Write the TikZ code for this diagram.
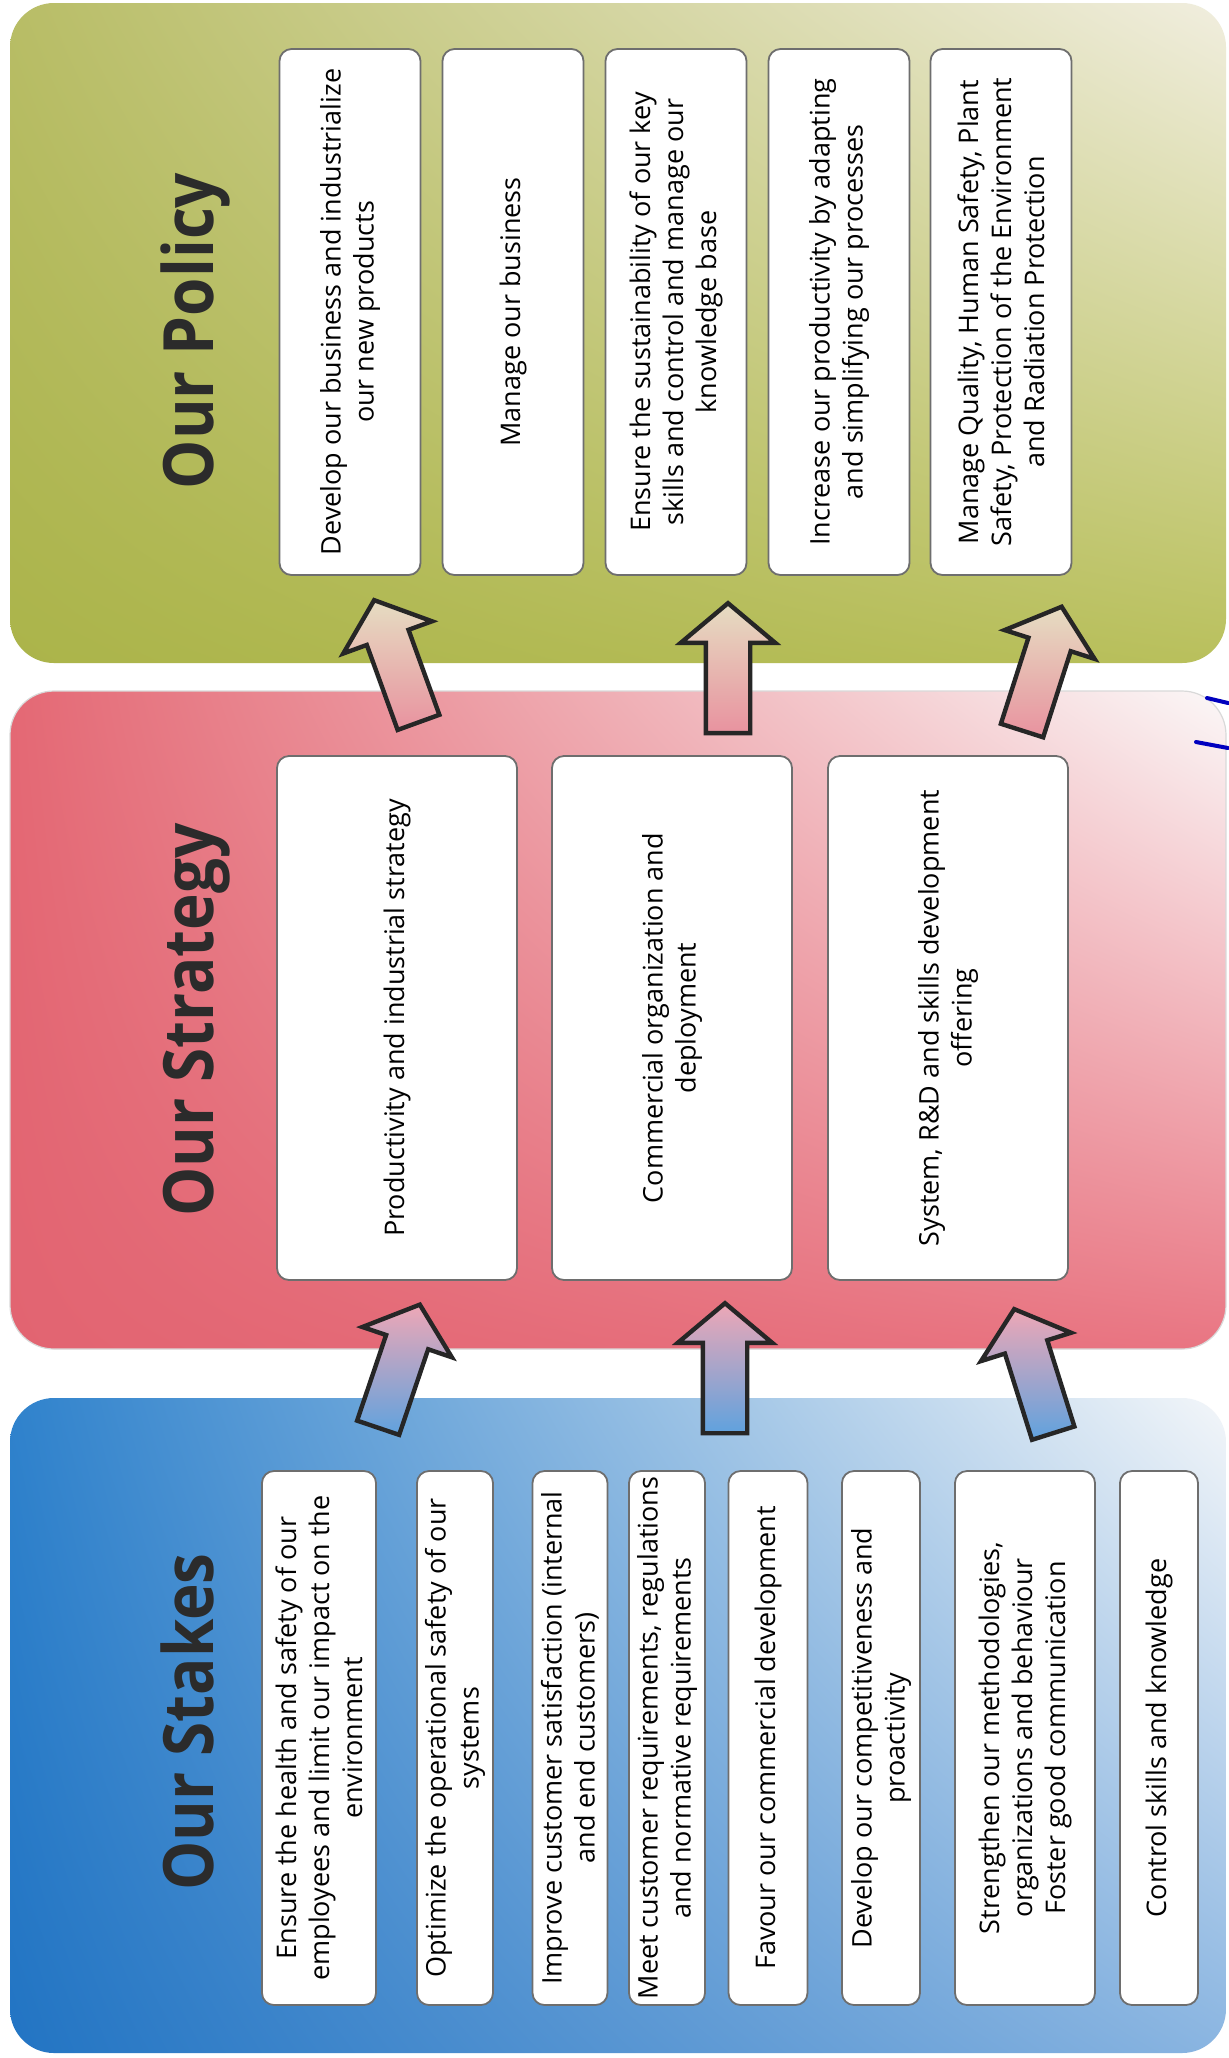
\documentclass[tikz,border=0pt]{standalone}
\usepackage{fontspec}
\setmainfont{Open Sans}
\usetikzlibrary{shapes.arrows,shadings}

\definecolor{boxline}{HTML}{6E6E6E}
\definecolor{titlegray}{HTML}{2B2B2B}
\definecolor{arrowtan}{HTML}{E6DDC2}
\definecolor{arrowpink}{HTML}{E8929F}
\definecolor{arrowrose}{HTML}{EEA7B6}
\definecolor{arrowblue}{HTML}{5FA2DE}
\definecolor{greenA}{HTML}{B8BD66}
\definecolor{greenB}{HTML}{F1EEDF}
\definecolor{greenC}{HTML}{ABB44A}
\definecolor{greenD}{HTML}{B9C05C}
\definecolor{redA}{HTML}{E46874}
\definecolor{redB}{HTML}{FBF8F8}
\definecolor{redC}{HTML}{E26471}
\definecolor{redD}{HTML}{E97582}
\definecolor{blueA}{HTML}{2F82CC}
\definecolor{blueB}{HTML}{F3F6F9}
\definecolor{blueC}{HTML}{2274C3}
\definecolor{blueD}{HTML}{8AB5E1}

\begin{document}
\begin{tikzpicture}[x=0.5pt,y=-0.5pt,
    box/.style={draw=boxline,line width=0.9pt,fill=white,rounded corners=6pt,rotate=90,align=center,inner sep=0pt,text=black,font=\fontsize{13.5}{16.5}\selectfont},
    pbox/.style={box,minimum width=263pt,minimum height=70.5pt},
    sbox/.style={box,minimum width=262pt,minimum height=120pt},
    kbox/.style={box,minimum width=267pt},
    title/.style={rotate=90,anchor=base,text=titlegray,font=\fontsize{31}{36}\selectfont\bfseries},
    bigarrow/.style={single arrow,draw=black!85,line width=2.2pt,minimum height=65pt,single arrow head extend=12.5pt,single arrow tip angle=100,inner xsep=0pt,inner ysep=10pt,sloped,allow upside down}]
  \useasboundingbox (0,0) rectangle (1228,2058);
  \fill[white] (0,0) rectangle (1228,2058);

  % the three bands
  \shade[upper left=greenA,upper right=greenB,lower left=greenC,lower right=greenD] (10,3) [rounded corners=22pt] rectangle (1226,663);
  \shade[upper left=redA,upper right=redB,lower left=redC,lower right=redD] (10,691) [rounded corners=22pt] rectangle (1226,1349);
  \shade[upper left=blueA,upper right=blueB,lower left=blueC,lower right=blueD] (10,1398) [rounded corners=22pt] rectangle (1226,2053);
  \draw[black!15,line width=0.6pt,rounded corners=22pt] (10,691) rectangle (1226,1349);

  \node[title] (policy) at (213,331) {\scalebox{1}[1.12]{Our Policy}};
  \node[title] (strategy) at (213,1020) {\scalebox{1}[1.12]{Our Strategy}};
  \node[title] (stakes) at (213,1722) {\scalebox{1}[1.12]{Our Stakes}};

  \node[pbox] (p1) at (350,312) {Develop our business and industrialize\\our new products};
  \node[pbox] (p2) at (513,312) {Manage our business};
  \node[pbox] (p3) at (676,312) {Ensure the sustainability of our key\\skills and control and manage our\\knowledge base};
  \node[pbox] (p4) at (839,312) {Increase our productivity by adapting\\and simplifying our processes};
  \node[pbox] (p5) at (1001,312) {Manage Quality, Human Safety, Plant\\Safety, Protection of the Environment\\and Radiation Protection};

  \node[sbox] (s1) at (397,1018) {Productivity and industrial strategy};
  \node[sbox] (s2) at (672,1018) {Commercial organization and\\deployment};
  \node[sbox] (s3) at (948,1018) {System, R\&D and skills development\\offering};

  \node[kbox,minimum height=57pt] (k1) at (319,1738) {Ensure the health and safety of our\\employees and limit our impact on the\\environment};
  \node[kbox,minimum height=38pt] (k2) at (455,1738) {Optimize the operational safety of our\\systems};
  \node[kbox,minimum height=37.5pt] (k3) at (570,1738) {Improve customer satisfaction (internal\\and end customers)};
  \node[kbox,minimum height=38pt] (k4) at (667,1738) {Meet customer requirements, regulations\\and normative requirements};
  \node[kbox,minimum height=39.5pt] (k5) at (768,1738) {Favour our commercial development};
  \node[kbox,minimum height=39pt] (k6) at (881,1738) {Develop our competitiveness and\\proactivity};
  \node[kbox,minimum height=70pt] (k7) at (1025,1738) {Strengthen our methodologies,\\organizations and behaviour\\Foster good communication};
  \node[kbox,minimum height=39pt] (k8) at (1159,1738) {Control skills and knowledge};

  % arrows strategy -> policy
  \coordinate (su1) at (422,732);
  \coordinate (pu1) at (377,608);
  \coordinate (su2) at (728,743);
  \coordinate (pu2) at (728,612);
  \coordinate (su3) at (1019,740);
  \coordinate (pu3) at (1059,615);
  \path (su1) -- (pu1) node[midway,bigarrow,top color=arrowtan,bottom color=arrowpink] (au1) {};
  \path (su2) -- (pu2) node[midway,bigarrow,top color=arrowtan,bottom color=arrowpink] (au2) {};
  \path (su3) -- (pu3) node[midway,bigarrow,top color=arrowtan,bottom color=arrowpink] (au3) {};

  % arrows stakes -> strategy
  \coordinate (kl1) at (375,1437);
  \coordinate (sl1) at (417,1313);
  \coordinate (kl2) at (725,1443);
  \coordinate (sl2) at (725,1312);
  \coordinate (kl3) at (1056,1442);
  \coordinate (sl3) at (1017,1318);
  \path (kl1) -- (sl1) node[midway,bigarrow,top color=arrowrose,bottom color=arrowblue] (al1) {};
  \path (kl2) -- (sl2) node[midway,bigarrow,top color=arrowrose,bottom color=arrowblue] (al2) {};
  \path (kl3) -- (sl3) node[midway,bigarrow,top color=arrowrose,bottom color=arrowblue] (al3) {};

  % pen marks at the edge
  \draw[blue!75!black,line width=2pt,line cap=round] (1207,698) -- (1228,703);
  \draw[blue!75!black,line width=2pt,line cap=round] (1196,742) -- (1228,748);
\end{tikzpicture}
\end{document}
